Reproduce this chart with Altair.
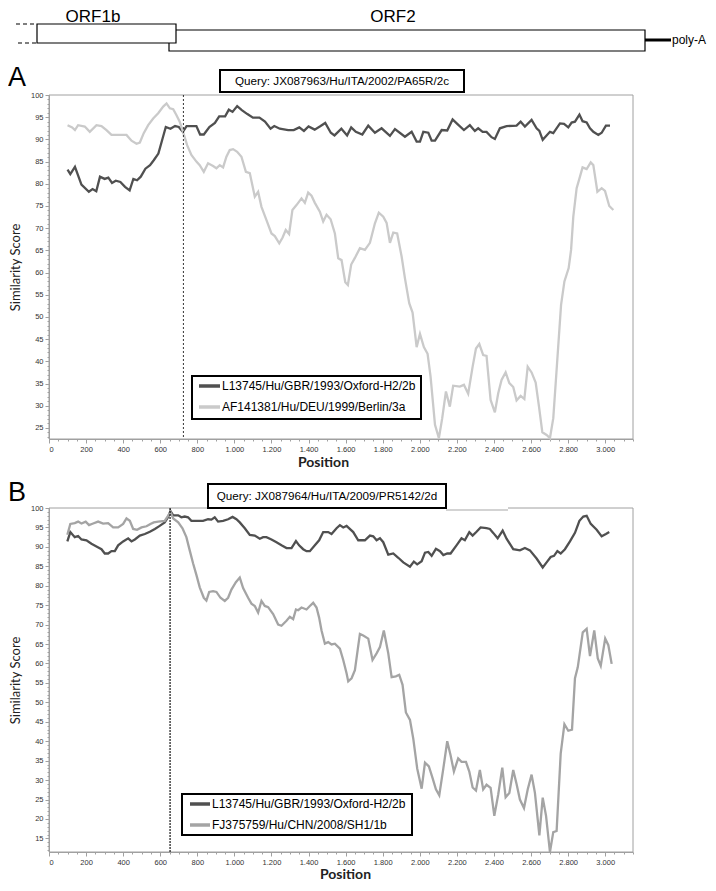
import altair as alt
import pandas as pd

S1 = "L13745/Hu/GBR/1993/Oxford-H2/2b"
S2 = "AF141381/Hu/DEU/1999/Berlin/3a"
S3 = "FJ375759/Hu/CHN/2008/SH1/1b"
series_names = [S1, S2, S3]
series_colors = ["#505050", "#cacaca", "#a4a4a4"]

title_a = "Query: JX087963/Hu/ITA/2002/PA65R/2c"
title_b = "Query: JX087964/Hu/ITA/2009/PR5142/2d"
orf_labels = ["ORF1b", "ORF2", "poly-A"]

x_ticks = list(range(0, 3001, 200))
x_minor = list(range(0, 3151, 50))
ya_ticks = list(range(25, 101, 5))
yb_ticks = list(range(15, 101, 5))
recomb_a = [725]
recomb_b = [653]

pos_a_dark = [100, 115, 140, 175, 215, 235, 255, 275, 300, 320, 340, 360, 385, 410, 435, 455, 475, 495, 520, 545,
              565, 590, 610, 630, 655, 680, 700, 722, 742, 795, 815, 835, 865, 895, 918, 950, 970, 990, 1015, 1040,
              1070, 1100, 1135, 1165, 1195, 1215, 1245, 1290, 1320, 1350, 1375, 1400, 1433, 1465, 1490, 1520, 1540,
              1577, 1608, 1630, 1655, 1690, 1722, 1758, 1794, 1839, 1866, 1920, 1956, 1983, 2001, 2019, 2046, 2064,
              2082, 2118, 2148, 2177, 2202, 2238, 2270, 2297, 2315, 2339, 2360, 2387, 2405, 2432, 2468, 2522, 2544,
              2567, 2603, 2630, 2645, 2663, 2702, 2720, 2756, 2778, 2801, 2819, 2837, 2861, 2878, 2900, 2918, 2936,
              2963, 2981, 3004, 3026]
val_a_dark = [83.2, 82.2, 83.8, 79.8, 78.2, 78.8, 78.3, 81.6, 81.1, 81.4, 80.2, 80.7, 80.4, 79.3, 78.5, 81.1, 80.8,
              81.6, 83.4, 84.2, 85.3, 86.8, 89.8, 92.8, 92.4, 93.0, 92.8, 91.7, 93.0, 93.0, 91.1, 91.1, 92.8, 93.7,
              95.2, 95.2, 96.7, 96.2, 97.5, 96.6, 95.7, 94.9, 94.9, 94.0, 92.4, 93.0, 92.4, 92.1, 92.1, 92.7, 91.9,
              92.9, 92.2, 93.0, 93.7, 91.5, 90.9, 92.4, 90.9, 92.7, 91.7, 91.1, 93.1, 91.5, 92.5, 90.8, 92.3, 90.6,
              91.7, 89.5, 89.5, 91.7, 91.5, 89.7, 89.7, 92.1, 92.0, 94.5, 93.5, 92.1, 93.2, 91.9, 92.5, 91.7, 91.7,
              90.5, 90.1, 92.5, 93.0, 93.1, 94.0, 92.9, 94.4, 92.5, 91.9, 89.9, 91.7, 91.4, 93.6, 93.5, 92.7, 93.8,
              94.0, 95.6, 94.1, 93.8, 92.5, 91.7, 91.0, 91.5, 93.1, 93.1]

pos_a_light = [100, 125, 140, 157, 193, 220, 256, 283, 310, 337, 418, 445, 472, 490, 511, 535, 562, 589, 616, 634,
               652, 670, 687, 705, 723, 745, 768, 795, 813, 835, 858, 885, 903, 921, 939, 957, 975, 993, 1015, 1038,
               1062, 1083, 1110, 1128, 1146, 1173, 1200, 1218, 1242, 1260, 1277, 1295, 1313, 1335, 1362, 1380, 1398,
               1416, 1434, 1461, 1479, 1497, 1519, 1542, 1560, 1578, 1598, 1612, 1630, 1650, 1677, 1704, 1731, 1758,
               1779, 1803, 1821, 1839, 1857, 1878, 1902, 1920, 1943, 1961, 1983, 2001, 2022, 2042, 2058, 2082, 2103,
               2121, 2141, 2162, 2180, 2216, 2238, 2261, 2285, 2303, 2321, 2342, 2360, 2382, 2405, 2423, 2441, 2463,
               2483, 2504, 2522, 2544, 2564, 2582, 2603, 2625, 2643, 2661, 2684, 2702, 2720, 2738, 2762, 2780, 2803,
               2816, 2828, 2846, 2864, 2878, 2900, 2922, 2936, 2958, 2981, 2999, 3022, 3044]
val_a_light = [93.2, 92.7, 92.1, 93.2, 92.9, 91.7, 93.2, 93.0, 92.1, 91.0, 91.0, 89.7, 89.0, 89.3, 91.4, 93.2, 94.7,
               95.9, 97.4, 98.1, 97.0, 96.8, 95.5, 94.0, 91.7, 88.7, 86.5, 85.0, 84.2, 82.7, 84.6, 84.0, 83.5, 84.2,
               83.7, 86.1, 87.6, 87.8, 87.2, 86.1, 82.7, 82.4, 77.1, 78.2, 74.8, 71.8, 68.8, 68.2, 66.6, 67.9, 69.6,
               68.7, 74.1, 75.2, 76.7, 75.7, 78.0, 77.3, 75.7, 73.7, 71.5, 73.0, 72.0, 68.8, 63.2, 62.8, 57.8, 57.2,
               61.8, 63.3, 65.5, 65.1, 66.7, 71.1, 73.5, 72.6, 71.2, 66.7, 69.0, 68.8, 63.6, 58.7, 53.1, 51.0, 43.2,
               46.2, 43.2, 41.7, 36.6, 25.7, 22.7, 27.2, 33.2, 29.8, 34.5, 34.3, 34.7, 32.7, 38.8, 42.9, 43.9, 41.4,
               41.2, 31.3, 28.5, 32.8, 35.8, 37.5, 35.1, 34.2, 31.2, 32.2, 31.5, 38.8, 37.5, 35.2, 29.8, 24.0, 23.4,
               22.7, 27.2, 38.1, 52.7, 58.0, 61.0, 65.1, 72.6, 79.0, 81.6, 83.7, 83.3, 84.8, 84.2, 78.2, 79.0, 78.4,
               75.0, 74.1]

pos_b_dark = [99, 115, 139, 157, 175, 202, 229, 256, 283, 301, 319, 337, 355, 373, 400, 427, 445, 463, 490, 517,
              544, 571, 597, 624, 642, 655, 670, 697, 714, 732, 750, 768, 795, 831, 858, 876, 894, 912, 939, 966,
              990, 1011, 1029, 1056, 1083, 1110, 1137, 1155, 1173, 1200, 1227, 1254, 1281, 1308, 1332, 1349, 1371,
              1389, 1407, 1434, 1457, 1479, 1506, 1524, 1551, 1569, 1587, 1605, 1641, 1668, 1704, 1731, 1749, 1767,
              1785, 1803, 1830, 1857, 1884, 1911, 1947, 1968, 1986, 2010, 2028, 2046, 2064, 2087, 2109, 2127, 2148,
              2166, 2198, 2225, 2243, 2267, 2285, 2306, 2328, 2360, 2378, 2396, 2420, 2447, 2468, 2504, 2540, 2567,
              2594, 2630, 2663, 2684, 2706, 2724, 2742, 2760, 2783, 2810, 2837, 2861, 2882, 2900, 2922, 2954, 2981,
              3004, 3022]
val_b_dark = [91.4, 93.8, 92.5, 92.8, 91.9, 91.7, 90.8, 90.1, 89.4, 88.3, 88.3, 88.9, 88.9, 90.4, 91.4, 92.2, 91.4,
              91.9, 92.9, 93.3, 93.9, 94.6, 95.4, 96.3, 97.6, 99.2, 98.1, 98.1, 97.6, 97.8, 97.6, 96.7, 96.7, 96.7,
              97.1, 97.0, 97.6, 96.5, 96.7, 97.1, 97.7, 97.1, 96.3, 94.8, 93.1, 92.9, 92.1, 92.5, 92.5, 91.9, 91.2,
              90.4, 89.7, 89.7, 91.5, 90.4, 89.4, 88.9, 88.9, 90.4, 91.7, 93.8, 93.8, 93.3, 94.8, 95.6, 95.0, 95.4,
              93.8, 91.7, 91.7, 92.9, 92.7, 91.7, 92.2, 91.2, 88.0, 88.3, 87.2, 86.0, 84.9, 86.2, 85.5, 86.3, 88.5,
              88.7, 87.7, 89.5, 88.9, 87.9, 88.3, 88.3, 90.4, 92.2, 91.7, 93.8, 92.9, 93.9, 95.0, 94.8, 94.6, 93.6,
              92.2, 94.2, 92.1, 89.4, 89.1, 89.7, 89.1, 87.0, 84.7, 86.0, 87.4, 87.7, 88.9, 88.3, 89.4, 91.4, 93.6,
              96.7, 97.8, 98.0, 95.9, 94.4, 92.7, 93.3, 93.8]

pos_b_light = [99, 115, 139, 157, 175, 198, 216, 238, 265, 292, 319, 346, 373, 400, 418, 436, 454, 475, 499, 526,
               547, 565, 589, 624, 642, 655, 670, 697, 720, 741, 759, 777, 795, 813, 835, 849, 864, 885, 903, 925,
               948, 966, 984, 1008, 1029, 1047, 1074, 1092, 1110, 1128, 1146, 1164, 1182, 1209, 1236, 1254, 1281,
               1299, 1317, 1332, 1344, 1362, 1389, 1407, 1425, 1443, 1457, 1470, 1488, 1506, 1524, 1542, 1569, 1587,
               1605, 1614, 1632, 1650, 1665, 1677, 1695, 1722, 1745, 1767, 1785, 1806, 1830, 1848, 1871, 1889, 1907,
               1925, 1947, 1965, 1986, 2010, 2028, 2049, 2069, 2087, 2105, 2127, 2148, 2166, 2184, 2207, 2225, 2249,
               2267, 2285, 2303, 2324, 2342, 2360, 2382, 2402, 2423, 2445, 2463, 2483, 2504, 2522, 2540, 2562, 2582,
               2603, 2621, 2645, 2663, 2681, 2702, 2720, 2738, 2760, 2780, 2801, 2821, 2837, 2852, 2879, 2900, 2918,
               2941, 2960, 2976, 3000, 3017, 3035]
val_b_light = [93.1, 95.9, 96.1, 96.5, 96.0, 96.5, 95.6, 96.0, 96.5, 96.0, 96.1, 95.0, 95.0, 95.9, 97.3, 96.7, 94.6,
               94.4, 95.0, 95.3, 95.9, 96.3, 96.5, 96.7, 98.0, 99.0, 97.3, 96.3, 94.8, 92.5, 89.1, 85.8, 82.8, 79.6,
               76.9, 76.2, 78.4, 78.6, 78.4, 76.9, 76.1, 76.9, 79.0, 80.9, 82.1, 79.4, 76.9, 75.4, 74.8, 73.1, 76.1,
               74.8, 74.5, 72.7, 70.0, 69.7, 71.0, 72.0, 71.4, 73.9, 73.7, 74.4, 73.9, 74.8, 75.6, 74.4, 71.8, 68.5,
               65.1, 65.5, 64.9, 65.1, 63.8, 60.9, 57.5, 55.4, 56.2, 58.3, 63.5, 67.6, 67.2, 66.4, 60.9, 62.6, 64.2,
               68.5, 62.6, 56.5, 56.7, 57.1, 54.5, 47.4, 45.5, 40.6, 33.0, 27.8, 34.5, 33.5, 30.5, 27.6, 26.1, 33.0,
               40.0, 36.4, 32.2, 35.6, 34.7, 34.7, 32.2, 28.1, 27.3, 32.6, 27.6, 28.8, 28.0, 20.8, 26.3, 33.2, 25.6,
               26.7, 32.6, 29.0, 25.0, 22.8, 27.6, 31.4, 26.7, 15.8, 25.5, 20.8, 11.5, 16.6, 16.9, 36.8, 44.4, 42.7,
               43.0, 56.2, 59.0, 68.0, 68.9, 61.9, 68.5, 61.3, 59.4, 66.4, 64.7, 59.9]

# ---------------- layout constants (pixels, relative to plot origin) ----------------
W = 584
H = 757
A_TOP, A_BOT = 0, 344
B_TOP, B_BOT = 413, 757
X_DOMAIN = [0, 3150]
YA_DOMAIN = [22.5, 100]
YB_DOMAIN = [11.5, 100]
D = 3  # vertical shift of the genome diagram

FONT = "Liberation Sans"
AXIS_GREY = "#a0a0a0"

df_a = pd.concat([
    pd.DataFrame({"pos": pos_a_dark, "val": val_a_dark, "series": S1}),
    pd.DataFrame({"pos": pos_a_light, "val": val_a_light, "series": S2}),
])
df_b = pd.concat([
    pd.DataFrame({"pos": pos_b_dark, "val": val_b_dark, "series": S1}),
    pd.DataFrame({"pos": pos_b_light, "val": val_b_light, "series": S3}),
])
one = pd.DataFrame({"k": [0]})
color_scale = alt.Scale(domain=series_names, range=series_colors)
label_expr = "replace(format(datum.value, ','), ',', '.')"


def xscale():
    return alt.Scale(domain=X_DOMAIN, nice=False, zero=False)


def yscale(dom, top, bot):
    return alt.Scale(domain=dom, range=[bot, top], nice=False, zero=False)


def x_major_axis(offset, title_x, title_pad):
    return alt.Axis(orient="bottom", offset=offset, values=x_ticks, labelExpr=label_expr,
                    labelFont=FONT, labelFontSize=7.5, labelColor="#333", labelPadding=2,
                    tickSize=4, tickColor=AXIS_GREY, domainColor=AXIS_GREY, grid=False,
                    title="Position", titleFont="Lato", titleFontSize=14, titleFontWeight="bold",
                    titleColor="#222", titlePadding=title_pad, titleX=title_x)


def x_minor_axis(offset):
    return alt.Axis(orient="bottom", offset=offset, values=x_minor, labels=False, domain=False,
                    tickSize=2, tickColor=AXIS_GREY, grid=False, title=None)


def y_major_axis(vals):
    return alt.Axis(orient="left", values=vals, labelFont=FONT, labelFontSize=7.5, labelColor="#333",
                    labelPadding=2, tickSize=4, tickColor=AXIS_GREY, domainColor=AXIS_GREY, grid=False,
                    title="Similarity Score", titleFont="Lato", titleFontSize=13, titleFontWeight="normal",
                    titleColor="#222", titlePadding=8)


def y_minor_axis(lo, hi):
    return alt.Axis(orient="left", values=list(range(lo, hi + 1)), labels=False, domain=False,
                    tickSize=2, tickColor=AXIS_GREY, grid=False, title=None)


def prule(x1, x2, y1, y2, color="black", width=1.0, dash=None):
    kw = dict(color=color, strokeWidth=width)
    if dash:
        kw["strokeDash"] = dash
    return alt.Chart(one).mark_rule(**kw).encode(
        x=alt.value(x1), x2=alt.value(x2), y=alt.value(y1), y2=alt.value(y2))


def prect(x1, x2, y1, y2, stroke="black", width=1.0, fill="white", fill_opacity=1.0):
    return alt.Chart(one).mark_rect(fill=fill, fillOpacity=fill_opacity, stroke=stroke,
                                    strokeWidth=width).encode(
        x=alt.value(x1), x2=alt.value(x2), y=alt.value(y1), y2=alt.value(y2))


def ptext(txt, x, y, size, align="center", font=FONT, weight="normal"):
    return alt.Chart(one).mark_text(text=txt, align=align, baseline="middle", fontSize=size,
                                    font=font, fontWeight=weight, color="black").encode(
        x=alt.value(x), y=alt.value(y))


layers = []

# ---------- genome diagram ----------
layers += [
    prect(120, 596, -68 + D, -47 + D, width=1.2),
    prect(-12, 127, -74 + D, -55 + D, width=1.2),
    prule(-33, -12, -74 + D, -74 + D, width=1.2, dash=[4, 3]),
    prule(-31, -12, -55 + D, -55 + D, width=1.2, dash=[4, 3]),
    prule(596, 622, -58 + D, -58 + D, width=3),
    ptext(orf_labels[0], 44, -78, 17),
    ptext(orf_labels[1], 344, -78, 17),
    ptext(orf_labels[2], 623, -58 + D, 12, align="left"),
]

# ---------- panel A ----------
layers.append(prect(0, W, A_TOP, A_BOT, stroke=AXIS_GREY, width=1, fill="white", fill_opacity=0))
layers.append(
    alt.Chart(df_a).mark_point(opacity=0).encode(
        x=alt.X("pos:Q", scale=xscale(), axis=x_minor_axis(A_BOT - H)),
        y=alt.Y("val:Q", scale=yscale(YA_DOMAIN, A_TOP, A_BOT), axis=y_minor_axis(23, 100)),
    )
)
layers.append(
    alt.Chart(df_a).mark_line(strokeWidth=2.3).encode(
        x=alt.X("pos:Q", scale=xscale(), axis=x_major_axis(A_BOT - H, 274, 3)),
        y=alt.Y("val:Q", scale=yscale(YA_DOMAIN, A_TOP, A_BOT), axis=y_major_axis(ya_ticks)),
        color=alt.Color("series:N", scale=color_scale, legend=None),
        detail="series:N",
    )
)
layers.append(
    alt.Chart(pd.DataFrame({"pos": recomb_a})).mark_rule(color="black", strokeWidth=0.8,
                                                         strokeDash=[2, 2]).encode(
        x=alt.X("pos:Q", scale=xscale(), axis=None), y=alt.value(A_TOP), y2=alt.value(A_BOT))
)
layers += [
    prect(171, 415, -25, -3, width=2),
    ptext(title_a, 293, -14, 11.7),
    ptext("A", -41, -17, 27, align="left"),
    prect(143, 372, 281, 324, width=2),
    prule(150, 171, 291, 291, color=series_colors[0], width=3.5),
    prule(150, 171, 312, 312, color=series_colors[1], width=3.5),
    ptext(S1, 173, 291, 12, align="left"),
    ptext(S2, 173, 312, 12, align="left"),
]

# ---------- panel B ----------
layers += [
    prule(0, 0, B_TOP, B_BOT, color=AXIS_GREY, width=1),
    prule(W, W, B_TOP, B_BOT, color=AXIS_GREY, width=1),
    prule(0, W, B_BOT, B_BOT, color=AXIS_GREY, width=1),
    prule(0, 159, B_TOP, B_TOP, color=AXIS_GREY, width=1),
    prule(397, 459, B_TOP + 2, B_TOP + 2, color="#c4c4c4", width=1.5),
    prule(459, W, B_TOP, B_TOP, color=AXIS_GREY, width=1),
]
layers.append(
    alt.Chart(df_b).mark_point(opacity=0).encode(
        x=alt.X("pos:Q", scale=xscale(), axis=x_minor_axis(0)),
        y=alt.Y("val:Q", scale=yscale(YB_DOMAIN, B_TOP, B_BOT), axis=y_minor_axis(12, 100)),
    )
)
layers.append(
    alt.Chart(df_b).mark_line(strokeWidth=2.3).encode(
        x=alt.X("pos:Q", scale=xscale(), axis=x_major_axis(0, 296, 2)),
        y=alt.Y("val:Q", scale=yscale(YB_DOMAIN, B_TOP, B_BOT), axis=y_major_axis(yb_ticks)),
        color=alt.Color("series:N", scale=color_scale, legend=None),
        detail="series:N",
    )
)
layers.append(
    alt.Chart(pd.DataFrame({"pos": recomb_b})).mark_rule(color="black", strokeWidth=1.1,
                                                         strokeDash=[2, 1]).encode(
        x=alt.X("pos:Q", scale=xscale(), axis=None), y=alt.value(B_TOP), y2=alt.value(B_BOT))
)
layers += [
    prect(159, 397, B_TOP - 24, B_TOP, width=2),
    ptext(title_b, 278, B_TOP - 12, 11.7),
    ptext("B", -41, B_TOP - 15, 27, align="left"),
    prect(133, 363, 699, 740, width=2),
    prule(141, 161, 709, 709, color=series_colors[0], width=3.5),
    prule(141, 161, 730, 730, color=series_colors[2], width=3.5),
    ptext(S1, 163, 709, 12, align="left"),
    ptext(S3, 163, 730, 12, align="left"),
]

chart = alt.layer(*layers).resolve_scale(x="independent", y="independent").properties(
    width=W, height=H,
    padding={"left": 41, "top": 87, "right": 75, "bottom": 31},
    autosize=alt.AutoSizeParams(type="none"),
).configure_view(strokeWidth=0)

chart.save("out.html", embed_options={"renderer": "svg", "actions": False})
